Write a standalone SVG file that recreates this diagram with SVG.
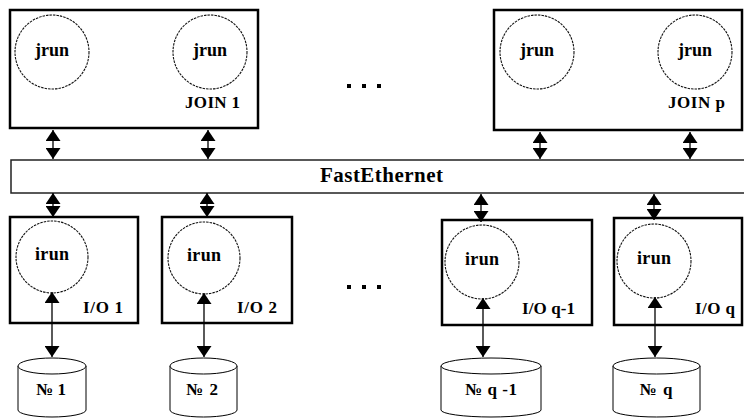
<svg xmlns="http://www.w3.org/2000/svg" width="744" height="418" viewBox="0 0 744 418">
<style>
.box{fill:#fff;stroke:#000;stroke-width:2.5}
.circ{fill:#fff;stroke:#111;stroke-width:1.1;stroke-dasharray:2.5 1}
.bus{fill:#fff;stroke:#222;stroke-width:1.5}
.cyl{fill:#fff;stroke:#000;stroke-width:1}
.t{font-family:"Liberation Serif","Times New Roman",serif;font-weight:bold;fill:#000}
.proc{font-size:18px;text-anchor:middle}
.lbl{font-size:17px}
.num{font-size:17px;text-anchor:middle}
.conn line{stroke:#000;stroke-width:1.3;marker-start:url(#ah);marker-end:url(#ah)}
</style>
<defs>
<marker id="ah" viewBox="0 0 11 15" refX="11" refY="7.5" markerWidth="11" markerHeight="15" markerUnits="userSpaceOnUse" orient="auto-start-reverse">
<path d="M0,0 L11,7.5 L0,15 z" fill="#000"/>
</marker>
</defs>
<rect width="744" height="418" fill="#fff"/>

<g id="join1">
<rect class="box" x="10" y="10" width="248" height="118"/>
<circle class="circ" cx="52" cy="52" r="37"/>
<text class="t proc" x="52" y="56" textLength="34">jrun</text>
<circle class="circ" cx="210" cy="52" r="37"/>
<text class="t proc" x="210" y="56" textLength="34">jrun</text>
<text class="t lbl" x="185" y="108" textLength="55">JOIN 1</text>
</g>

<g id="joinp">
<rect class="box" x="494" y="10" width="248" height="120"/>
<circle class="circ" cx="537" cy="52" r="37"/>
<text class="t proc" x="537" y="56" textLength="34">jrun</text>
<circle class="circ" cx="695" cy="52" r="37"/>
<text class="t proc" x="695" y="56" textLength="34">jrun</text>
<text class="t lbl" x="668" y="108" textLength="57">JOIN p</text>
</g>

<g id="dots-top">
<rect x="347" y="84" width="4" height="4"/>
<rect x="362" y="84" width="4" height="4"/>
<rect x="377" y="84" width="4" height="4"/>
</g>

<g id="bus">
<rect class="bus" x="11" y="160" width="740" height="33"/>
<text class="t" x="320" y="182" font-size="21" textLength="123">FastEthernet</text>
</g>

<g id="io1">
<rect class="box" x="10" y="217" width="128" height="106"/>
<circle class="circ" cx="52" cy="257" r="36"/>
<text class="t proc" x="52" y="260" textLength="34">irun</text>
<text class="t lbl" x="83" y="313" textLength="40">I/O 1</text>
</g>

<g id="io2">
<rect class="box" x="162" y="217" width="130" height="106"/>
<circle class="circ" cx="204" cy="258" r="36"/>
<text class="t proc" x="204" y="261" textLength="34">irun</text>
<text class="t lbl" x="237" y="313" textLength="40">I/O 2</text>
</g>

<g id="dots-bottom">
<rect x="347" y="285" width="4" height="4"/>
<rect x="362" y="285" width="4" height="4"/>
<rect x="377" y="285" width="4" height="4"/>
</g>

<g id="ioq1">
<rect class="box" x="442" y="220" width="150" height="105"/>
<circle class="circ" cx="482" cy="262" r="37"/>
<text class="t proc" x="482" y="265" textLength="34">irun</text>
<text class="t lbl" x="522" y="314" textLength="53">I/O q-1</text>
</g>

<g id="ioq">
<rect class="box" x="614" y="218" width="128" height="107"/>
<circle class="circ" cx="654" cy="261" r="37"/>
<text class="t proc" x="654" y="264" textLength="34">irun</text>
<text class="t lbl" x="695" y="314" textLength="40">I/O q</text>
</g>

<g id="disk1">
<path class="cyl" d="M18,366 L18,410 A34,7 0 0 0 86,410 L86,366"/>
<ellipse class="cyl" cx="52" cy="366" rx="34" ry="8"/>
<text class="t num" x="51" y="395" textLength="30">№ 1</text>
</g>

<g id="disk2">
<path class="cyl" d="M170,366 L170,410 A33.5,7 0 0 0 237,410 L237,366"/>
<ellipse class="cyl" cx="203.5" cy="366" rx="33.5" ry="8"/>
<text class="t num" x="202" y="395" textLength="32">№ 2</text>
</g>

<g id="diskq1">
<path class="cyl" d="M441,366 L441,410 A50,7 0 0 0 541,410 L541,366"/>
<ellipse class="cyl" cx="491" cy="366" rx="50" ry="8"/>
<text class="t num" x="491" y="395" textLength="52">№ q -1</text>
</g>

<g id="diskq">
<path class="cyl" d="M613,366 L613,410 A43.5,7 0 0 0 700,410 L700,366"/>
<ellipse class="cyl" cx="656.5" cy="366" rx="43.5" ry="8"/>
<text class="t num" x="656" y="395" textLength="33">№ q</text>
</g>

<g id="connectors" class="conn">
<line x1="53" y1="130" x2="53" y2="159"/>
<line x1="208" y1="130" x2="208" y2="159"/>
<line x1="540" y1="132" x2="540" y2="159"/>
<line x1="690" y1="132" x2="690" y2="159"/>
<line x1="53" y1="193" x2="53" y2="217"/>
<line x1="207" y1="193" x2="207" y2="217"/>
<line x1="481" y1="194" x2="481" y2="222"/>
<line x1="654" y1="194" x2="654" y2="220"/>
<line x1="52" y1="292" x2="52" y2="357"/>
<line x1="204" y1="293" x2="204" y2="357"/>
<line x1="483" y1="298" x2="483" y2="357"/>
<line x1="655" y1="297" x2="655" y2="357"/>
</g>
</svg>
